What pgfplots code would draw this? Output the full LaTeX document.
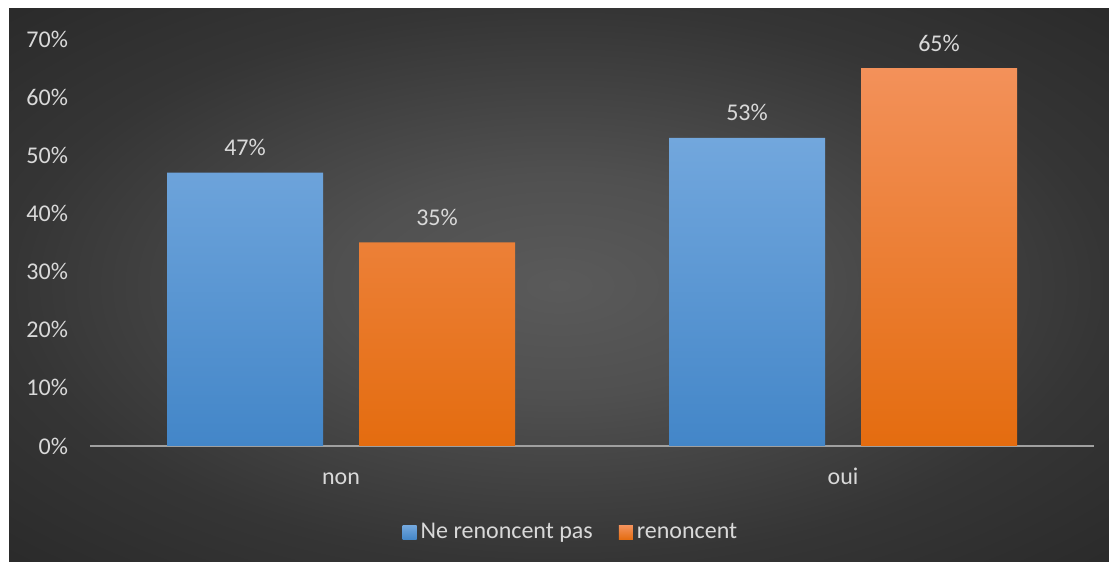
\documentclass[border=0pt]{standalone}
\usepackage{pgfplots}
\pgfplotsset{compat=1.18}
\usepackage{fontspec}
\setmainfont{Carlito}
\definecolor{txt}{HTML}{D9D9D9}
\definecolor{axln}{HTML}{A0A0A0}
\definecolor{bluetop}{HTML}{72A7DD}
\definecolor{bluebot}{HTML}{4386C8}
\definecolor{orgtop}{HTML}{F3915A}
\definecolor{orgbot}{HTML}{E46C0F}
\definecolor{bgin}{HTML}{5A5A5A}
\definecolor{bgmid}{HTML}{505050}
\definecolor{bgedge}{HTML}{353535}
\definecolor{bgout}{HTML}{2A2A2A}
\pgfdeclareradialshading{chartbg}{\pgfpoint{0bp}{0bp}}{%
  color(0bp)=(bgin); color(10bp)=(bgmid); color(25bp)=(bgedge);
  color(36bp)=(bgout); color(50bp)=(bgout)}
\begin{document}
\begin{tikzpicture}[x=1pt,y=1pt]
  % white margin and dark chart area
  \fill[white] (0,0) rectangle (554.5,281);
  \shade[shading=chartbg] (4.5,0) rectangle (554.5,276.5);
  \begin{axis}[
    at={(45pt,58pt)}, anchor=south west,
    scale only axis,
    width=502pt, height=203.5pt,
    ybar=18pt, bar width=78pt,
    xmin=-0.5, xmax=1.5, ymin=0, ymax=70,
    xtick={0,1}, xticklabels={non,oui},
    ytick={0,10,...,70},
    yticklabel={\pgfmathprintnumber{\tick}\%},
    /pgf/number format/assume math mode=true,
    major tick length=0pt,
    axis x line*=bottom, axis y line*=left,
    separate axis lines,
    x axis line style={draw=axln, line width=1pt, -},
    y axis line style={draw=none},
    tick label style={font=\fontsize{12}{14}\selectfont, text=txt},
    yticklabel style={xshift=-7.5pt},
    xticklabel style={anchor=base, yshift=-19.5pt},
    nodes near coords={\pgfmathprintnumber{\pgfplotspointmeta}\%},
    every node near coord/.append style={font=\fontsize{12}{14}\selectfont, text=txt, yshift=4.8pt},
    legend style={at={(0.480,-0.213)}, anchor=center, legend columns=2,
      draw=none, fill=none, font=\fontsize{12}{14}\selectfont, text=txt,
      /tikz/every even column/.append style={column sep=11pt}},
    legend image code/.code={\path[#1, draw=none] (0pt,-3.5pt) rectangle (7pt,3.5pt);},
  ]
  \addplot[draw=none, top color=bluetop, bottom color=bluebot] coordinates {(0,47) (1,53)};
  \addplot[draw=none, top color=orgtop, bottom color=orgbot] coordinates {(0,35) (1,65)};
  \legend{Ne renoncent pas, renoncent}
  \end{axis}
\end{tikzpicture}
\end{document}
